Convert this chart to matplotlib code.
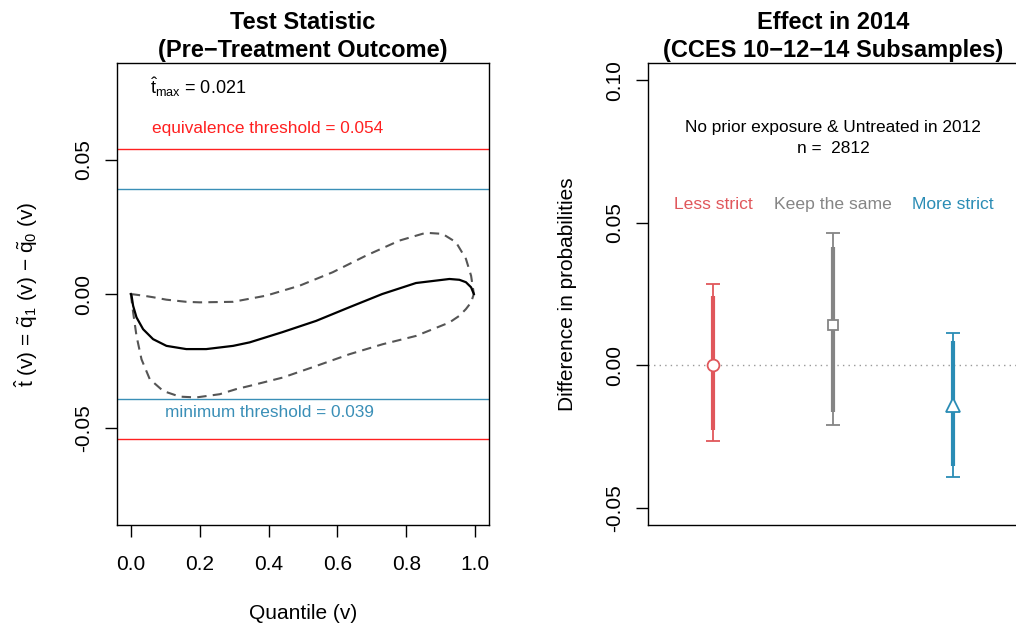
import matplotlib
matplotlib.use("Agg")
import matplotlib.pyplot as plt

plt.rcParams['font.family'] = ['Liberation Sans', 'DejaVu Sans']
plt.rcParams['mathtext.fontset'] = 'custom'
plt.rcParams['mathtext.rm'] = 'Liberation Sans'
plt.rcParams['mathtext.it'] = 'Liberation Sans:italic'

# left panel: test statistic curve and its band
v_est = [0.0, 0.002, 0.0067, 0.0165, 0.0357, 0.0646, 0.1035, 0.161, 0.219, 0.297, 0.345,
         0.44, 0.538, 0.635, 0.73, 0.828, 0.925, 0.954, 0.973, 0.988, 0.996]
t_est = [0.0, -0.0005, -0.0044, -0.0087, -0.0131, -0.0168, -0.0193, -0.0205, -0.0205,
         -0.0193, -0.018, -0.0142, -0.010, -0.0049, 0.0, 0.0041, 0.0056, 0.0053, 0.0044,
         0.0025, 0.0]
v_up = [0.0, 0.036, 0.065, 0.103, 0.161, 0.2, 0.297, 0.393, 0.49, 0.586, 0.683, 0.78,
        0.857, 0.905, 0.944, 0.973, 0.988, 0.996]
t_up = [0.0, -0.0006, -0.0012, -0.0021, -0.0029, -0.0031, -0.0029, -0.0006, 0.0031,
        0.0081, 0.0143, 0.0199, 0.0228, 0.0224, 0.0193, 0.0131, 0.0068, 0.0]
v_lo = [0.0, 0.0067, 0.0165, 0.031, 0.055, 0.094, 0.142, 0.19, 0.258, 0.306, 0.345,
        0.441, 0.538, 0.635, 0.731, 0.828, 0.925, 0.954, 0.973, 0.988, 0.996]
t_lo = [0.0, -0.0068, -0.0156, -0.0243, -0.0317, -0.0361, -0.0382, -0.0385, -0.0373,
        -0.0354, -0.0342, -0.0311, -0.0268, -0.0224, -0.0187, -0.0156, -0.0106, -0.0081,
        -0.0056, -0.0031, 0.0]
equiv_thr = 0.054
min_thr = 0.039
t_max = 0.021

# right panel: estimates with 90% / 95% intervals
groups = ["Less strict", "Keep the same", "More strict"]
est = [0.0, 0.014, -0.014]
ci95_lo = [-0.0267, -0.021, -0.0393]
ci95_hi = [0.0284, 0.0463, 0.0112]
ci90_lo = [-0.0228, -0.0165, -0.0354]
ci90_hi = [0.0242, 0.0414, 0.0084]
n_obs = 2812

red = "#E0575B"
grey = "#858585"
blue = "#2A8CB5"
cols = [red, grey, blue]
marks = ["o", "s", "^"]
msizes = [8.5, 7, 10]

fig = plt.figure(figsize=(10.16, 6.29), dpi=100)

# ---------- left panel
ax1 = fig.add_axes([0.1152, 0.1653, 0.3661, 0.7345])
ax1.plot(v_up, t_up, color="#555555", lw=1.5, ls=(0, (4.5, 3)))
ax1.plot(v_lo, t_lo, color="#555555", lw=1.5, ls=(0, (4.5, 3)))
ax1.plot(v_est, t_est, color="black", lw=1.6)
ax1.axhline(equiv_thr, color="#FF2020", lw=1)
ax1.axhline(-equiv_thr, color="#FF2020", lw=1)
ax1.axhline(min_thr, color="#3A8FB7", lw=1)
ax1.axhline(-min_thr, color="#3A8FB7", lw=1)
ax1.text(0.055, 0.0772, r"$\hat{\mathrm{t}}_{\mathrm{max}}$ = %.3f" % t_max, fontsize=13,
         va="center", ha="left")
ax1.text(0.062, 0.0616, "equivalence threshold = %.3f" % equiv_thr, color="#FF2020",
         fontsize=12.4, va="center", ha="left")
ax1.text(0.098, -0.0441, "minimum threshold = %.3f" % min_thr, color="#3A8FB7",
         fontsize=12.4, va="center", ha="left")
ax1.set_xlim(-0.04, 1.04)
ax1.set_ylim(-0.086, 0.086)
ax1.set_xticks([0.0, 0.2, 0.4, 0.6, 0.8, 1.0])
ax1.set_xticklabels(["0.0", "0.2", "0.4", "0.6", "0.8", "1.0"])
ax1.set_yticks([-0.05, 0.0, 0.05])
ax1.set_yticklabels(["-0.05", "0.00", "0.05"], rotation=90, va="center")
ax1.tick_params(length=8.5, width=1, labelsize=15)
ax1.tick_params(axis="x", pad=13)
ax1.tick_params(axis="y", pad=9)
ax1.set_xlabel("Quantile (v)", fontsize=15, labelpad=22)
ax1.set_ylabel(r"$\hat{\mathrm{t}}$ (v) = $\tilde{\mathrm{q}}_1$ (v) $-$ $\tilde{\mathrm{q}}_0$ (v)",
               fontsize=15, labelpad=24)
ax1.set_title("Test Statistic\n(Pre\u2212Treatment Outcome)", fontsize=17,
              fontweight="bold", pad=4, linespacing=1.3)

# ---------- right panel
ax2 = fig.add_axes([0.6378, 0.1653, 0.3642, 0.7345])
xpos = [1, 2, 3]
ax2.axhline(0, color="#999999", lw=1, ls=(0, (1, 3)))
for i in range(3):
    ax2.errorbar(xpos[i], est[i],
                 yerr=[[est[i] - ci95_lo[i]], [ci95_hi[i] - est[i]]],
                 fmt="none", ecolor=cols[i], elinewidth=1.3, capsize=4.7, capthick=1.3)
    ax2.plot([xpos[i], xpos[i]], [ci90_lo[i], ci90_hi[i]], color=cols[i], lw=3,
             solid_capstyle="butt")
    ax2.plot(xpos[i], est[i], marker=marks[i], ms=msizes[i], mfc="white",
             mec=cols[i], mew=1.3, ls="none", zorder=5)
    ax2.text(xpos[i], 0.0565, groups[i], color=cols[i], fontsize=12.6, ha="center",
             va="center")
ax2.text(2, 0.0835, "No prior exposure & Untreated in 2012", fontsize=12.4,
         ha="center", va="center")
ax2.text(2, 0.0762, "n =  %d" % n_obs, fontsize=12.4, ha="center", va="center")
ax2.set_xlim(0.46, 3.54)
ax2.set_ylim(-0.056, 0.106)
ax2.set_xticks([])
ax2.set_yticks([-0.05, 0.0, 0.05, 0.10])
ax2.set_yticklabels(["-0.05", "0.00", "0.05", "0.10"], rotation=90, va="center")
ax2.tick_params(length=8.5, width=1, labelsize=15, pad=9)
ax2.set_ylabel("Difference in probabilities", fontsize=15, labelpad=20)
ax2.set_title("Effect in 2014\n(CCES 10\u221212\u221214 Subsamples)", fontsize=17,
              fontweight="bold", pad=4, linespacing=1.3)

for ax in (ax1, ax2):
    for s in ax.spines.values():
        s.set_linewidth(1)

fig.savefig("out.png", dpi=100)
